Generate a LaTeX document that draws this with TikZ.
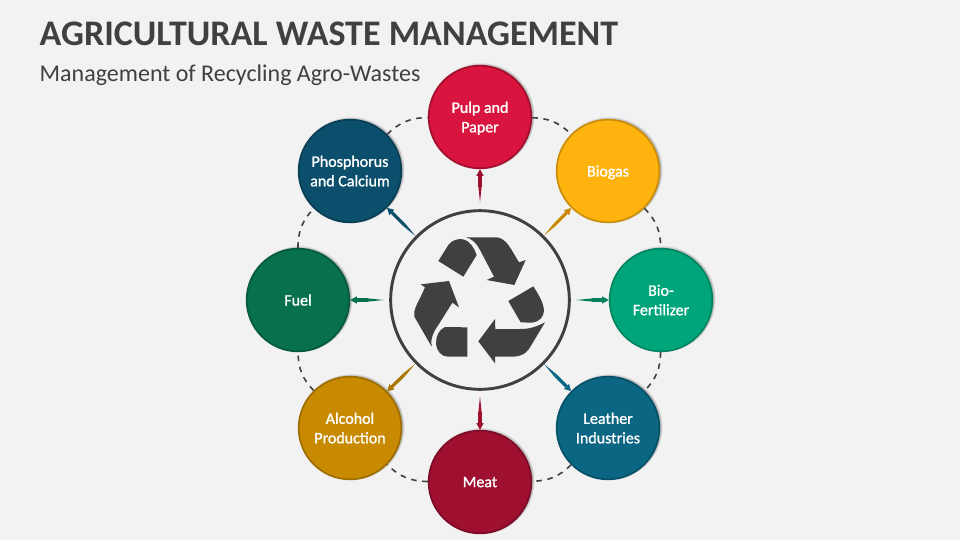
\documentclass[tikz,border=0pt]{standalone}
\usepackage{fontspec}
\setmainfont{Carlito}
\newfontfamily\labelfont[FakeBold=1.2]{Carlito}
\usetikzlibrary{arrows.meta,shadows,positioning}
\definecolor{bg}{HTML}{F2F2F2}
\definecolor{ink}{HTML}{404040}
\definecolor{pulpc}{HTML}{D9143F}
\definecolor{gasc}{HTML}{FFB30F}
\definecolor{fertc}{HTML}{00A67A}
\definecolor{leathc}{HTML}{0A6683}
\definecolor{meatc}{HTML}{9E0F30}
\definecolor{alcc}{HTML}{C88A00}
\definecolor{fuelc}{HTML}{06704F}
\definecolor{phosc}{HTML}{0B4F6C}
\tikzset{
  item/.style={circle, minimum size=77pt, inner sep=0pt, line width=1.3pt, align=center, text=white, text depth=0pt,
    font=\labelfont\fontsize{12}{14.6}\selectfont,
    circular drop shadow={shadow xshift=.8pt, shadow yshift=.8pt, shadow scale=1.04, fill=black, opacity=.8}},
  ring/.style={dash pattern=on 4.2pt off 4.2pt, line width=1.2pt, ink},
  feed/.style={line width=2.4pt, {Triangle[length=12pt,width=2.4pt,line width=0pt]}-{Triangle[length=5pt,width=5.5pt,line width=0pt]}}
}
\begin{document}
\begin{tikzpicture}[x=.75pt, y=-.75pt]
        \fill[bg] (0,0) rectangle (960,540);
        \node[anchor=west, text=ink, font=\fontsize{27}{30}\selectfont\bfseries] (title) at (35,34) {AGRICULTURAL WASTE MANAGEMENT};
        \node[anchor=west, text=ink, font=\fontsize{18}{22}\selectfont] (subtitle) at (35,75) {Management of Recycling Agro-Wastes};
        \node[circle, draw=ink, line width=2.2pt, minimum size=134pt, inner sep=0pt] (hub) at (480,300) {};
        \node[item, fill=pulpc, draw=pulpc!75!black] (pulp) at (480,117) {Pulp and\\Paper};
        \node[item, fill=gasc, draw=gasc!80!black] (gas) at (608,171) {Biogas};
        \node[item, fill=fertc, draw=fertc!80!black] (fert) at (661,300) {Bio-\\Fertilizer};
        \node[item, fill=leathc, draw=leathc!80!black] (leath) at (608,428) {Leather\\Industries};
        \node[item, fill=meatc, draw=meatc!80!black] (meat) at (480,482) {Meat};
        \node[item, fill=alcc, draw=alcc!80!black] (alc) at (350,428) {Alcohol\\Production};
        \node[item, fill=fuelc, draw=fuelc!80!black] (fuel) at (298,300) {Fuel};
        \node[item, fill=phosc, draw=phosc!80!black] (phos) at (350,171) {Phosphorus\\and Calcium};
        \draw[ring] (pulp) to[bend left=22] (gas);
        \draw[ring] (gas) to[bend left=22] (fert);
        \draw[ring] (fert) to[bend left=22] (leath);
        \draw[ring] (leath) to[bend left=22] (meat);
        \draw[ring] (meat) to[bend left=22] (alc);
        \draw[ring] (alc) to[bend left=22] (fuel);
        \draw[ring] (fuel) to[bend left=22] (phos);
        \draw[ring] (phos) to[bend left=22] (pulp);
        \draw[feed, meatc, shorten <=5pt] (hub) -- (pulp);
        \draw[feed, alcc] (hub) -- (gas);
        \draw[feed, fuelc!70!fertc, shorten <=4pt] (hub) -- (fert);
        \draw[feed, leathc] (hub) -- (leath);
        \draw[feed, meatc, shorten <=4pt] (hub) -- (meat);
        \draw[feed, alcc!85!black] (hub) -- (alc);
        \draw[feed, fuelc, shorten <=4pt] (hub) -- (fuel);
        \draw[feed, phosc] (hub) -- (phos);
        \begin{scope}[shift={(380,200)}, x=.25pt, y=-.25pt]
            \fill[ink] (175,183) -- (205,135) .. controls (215,120) and (235,115) .. (250,118) .. controls (270,122) and (283,145) .. (290,165) -- (250,230) -- cycle;
            \fill[ink] (258,112) -- (350,112) .. controls (375,115) and (385,135) .. (395,150) -- (417,187) -- (437,180) -- (403,255) -- (320,240) -- (342,230) -- (300,150) .. controls (285,122) and (270,115) .. (258,112) -- cycle;
            \fill[ink] (460,259) -- (385,303) -- (422,367) -- (455,368) .. controls (480,365) and (492,350) .. (492,330) .. controls (490,310) and (480,290) .. (460,259) -- cycle;
            \fill[ink] (495,367) .. controls (460,385) and (440,387) .. (420,387) -- (346,387) -- (345,357) -- (295,424) -- (345,490) -- (345,470) -- (400,470) .. controls (435,468) and (445,450) .. (450,442) -- cycle;
            \fill[ink] (262,382) -- (195,381) .. controls (175,390) and (168,410) .. (168,430) .. controls (170,455) and (185,470) .. (205,470) -- (262,470) -- cycle;
            \fill[ink] (155,440) -- (103,350) -- (103,335) .. controls (105,320) and (120,297) .. (135,262) -- (122,253) -- (207,243) -- (237,322) -- (217,308) -- (175,375) .. controls (160,395) and (150,420) .. (155,440) -- cycle;
        \end{scope}
    \end{tikzpicture}
\end{document}
